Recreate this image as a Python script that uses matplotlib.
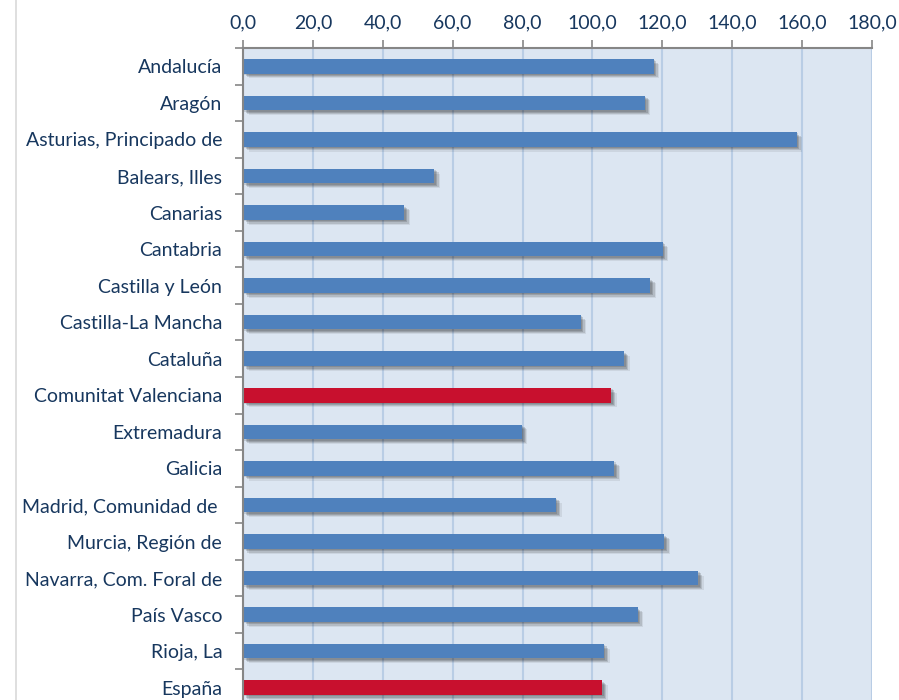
import matplotlib.pyplot as plt
import matplotlib.patheffects as pe
from matplotlib.lines import Line2D
from matplotlib.ticker import MultipleLocator, FixedLocator
import numpy as np

regions = ['Andalucía', 'Aragón', 'Asturias, Principado de', 'Balears, Illes',
           'Canarias', 'Cantabria', 'Castilla y León', 'Castilla-La Mancha',
           'Cataluña', 'Comunitat Valenciana', 'Extremadura', 'Galicia',
           'Madrid, Comunidad de ', 'Murcia, Región de', 'Navarra, Com. Foral de',
           'País Vasco', 'Rioja, La', 'España']
values = [117.5, 115.0, 158.4, 54.8, 46.2, 120.1, 116.6, 96.6, 109.1, 105.4,
          79.8, 106.3, 89.6, 120.6, 130.3, 112.9, 103.3, 102.8]
highlight = ['Comunitat Valenciana', 'España']

blue = '#4F81BD'
red = '#C8102E'
text_col = '#17375E'

plt.rcParams['font.family'] = ['Lato', 'DejaVu Sans']

fig = plt.figure(figsize=(8.99, 7.0), dpi=100)
ax = fig.add_axes([243 / 899, -0.0086, 629 / 899, 0.94])
ax.set_facecolor('#DCE6F2')

y = np.arange(len(regions))
colors = [red if r in highlight else blue for r in regions]
bars = ax.barh(y, values, height=0.4, color=colors, zorder=3)
# soft drop shadow, layered to fake a blur
shadow = [pe.SimplePatchShadow(offset=(4.0, -3.5), shadow_rgbFace='#000000', alpha=0.07),
          pe.SimplePatchShadow(offset=(3.0, -2.7), shadow_rgbFace='#000000', alpha=0.12),
          pe.SimplePatchShadow(offset=(2.0, -1.8), shadow_rgbFace='#000000', alpha=0.14),
          pe.SimplePatchShadow(offset=(1.0, -1.0), shadow_rgbFace='#000000', alpha=0.12),
          pe.Normal()]
for b in bars:
    b.set_path_effects(shadow)

ax.set_xlim(0, 180)
ax.set_ylim(len(regions) - 0.5, -0.5)
ax.xaxis.set_major_locator(MultipleLocator(20))
ax.xaxis.tick_top()
ax.set_xticklabels([f'{v:.1f}'.replace('.', ',') for v in ax.get_xticks()])
ax.tick_params(axis='x', which='major', direction='out', length=6, width=1.2,
               color='#868686', labelsize=14, labelcolor=text_col, pad=6)

ax.set_yticks(y)
ax.set_yticklabels(regions)
ax.yaxis.set_minor_locator(FixedLocator(np.arange(-0.5, len(regions), 1)))
ax.tick_params(axis='y', which='major', length=0, labelsize=14,
               labelcolor=text_col, pad=15)
ax.tick_params(axis='y', which='minor', direction='out', length=6, width=1.2,
               color='#868686')

ax.grid(axis='x', color='#B9CDE5', linewidth=1.5, zorder=0)
ax.set_axisbelow(True)
for s in ['right', 'bottom']:
    ax.spines[s].set_visible(False)
for s in ['top', 'left']:
    ax.spines[s].set_color('#868686')
    ax.spines[s].set_linewidth(1.5)
    ax.spines[s].set_zorder(4)

# outer chart border on the left
fig.add_artist(Line2D([15.5 / 899, 15.5 / 899], [0, 1], color='#D9D9D9',
                      linewidth=1.2, transform=fig.transFigure))

fig.savefig('out.png', dpi=100)
